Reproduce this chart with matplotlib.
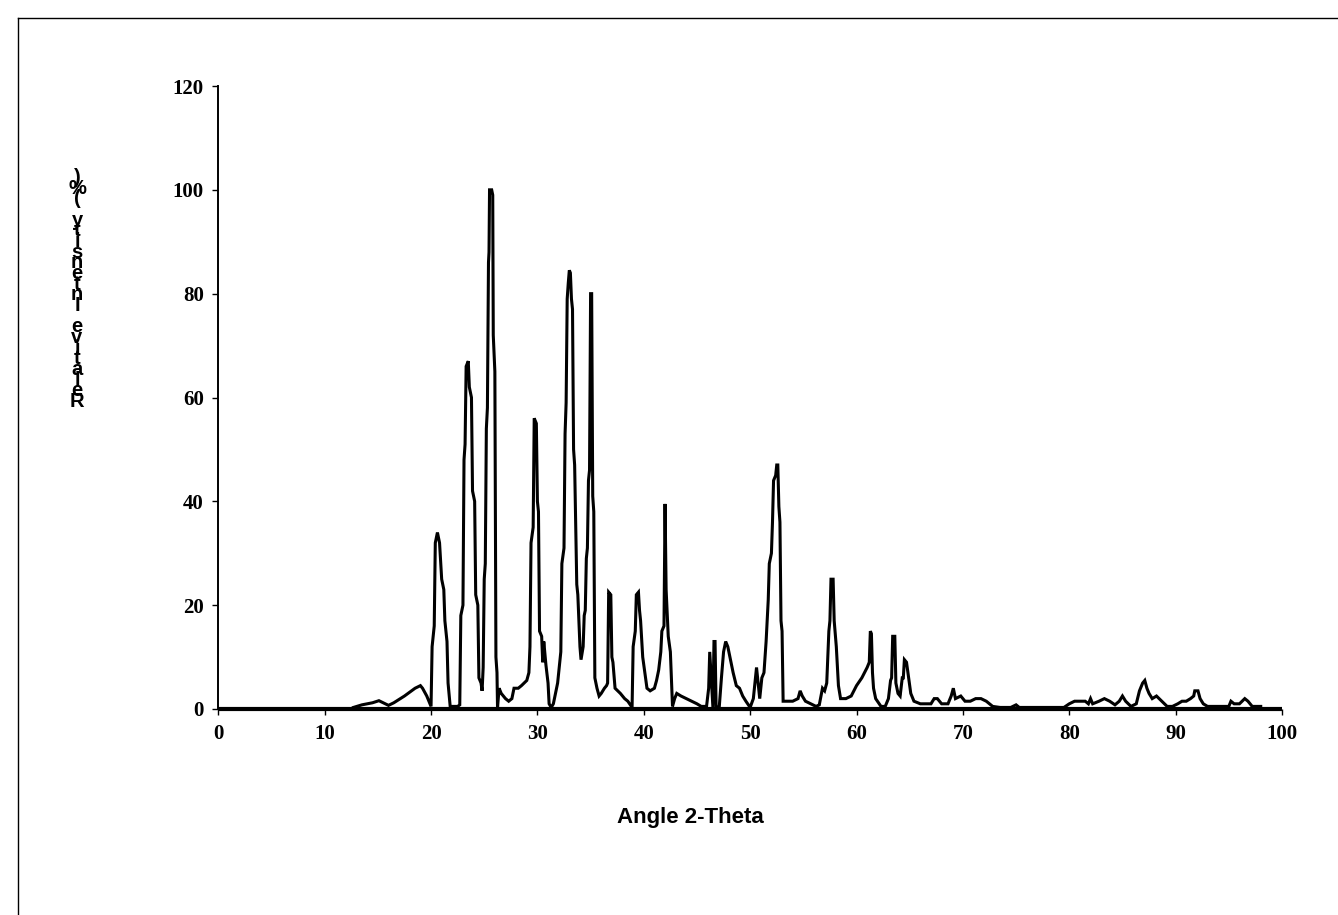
import matplotlib
matplotlib.use("Agg")
import matplotlib.pyplot as plt
from matplotlib.lines import Line2D

# ---- data ----
two_theta = [
    12.7, 13.5, 14.5, 15.1, 15.5, 16.0, 16.5, 17.5, 18.5, 19.0, 19.2, 19.6, 20.0,
    20.1, 20.3, 20.4, 20.6, 20.8, 21.0, 21.2, 21.3, 21.5, 21.6, 21.8, 22.5, 22.7,
    22.8, 23.0, 23.1, 23.2, 23.3, 23.5, 23.6, 23.8, 23.9, 24.1, 24.2, 24.4, 24.5, 24.7, 24.8,
    24.9, 25.0, 25.1, 25.2, 25.3, 25.4, 25.45, 25.5, 25.7, 25.8, 25.85, 26.0, 26.1, 26.2, 26.25,
    26.4, 26.6, 27.0, 27.3, 27.6, 27.8, 28.2, 28.5, 29.0, 29.2, 29.3, 29.4, 29.6, 29.7,
    29.9, 30.0, 30.1, 30.2, 30.4, 30.5, 30.6, 30.8, 31.0, 31.1, 31.3, 31.5, 31.7, 31.9,
    32.1, 32.2, 32.3, 32.5, 32.6, 32.7, 32.8, 32.9, 33.0, 33.1, 33.2, 33.3, 33.4, 33.5,
    33.7, 33.8, 34.0, 34.1, 34.3, 34.4, 34.5, 34.6, 34.7, 34.8, 34.9, 35.0, 35.1, 35.2,
    35.3, 35.4, 35.6, 35.8, 36.0, 36.3, 36.5, 36.6, 36.7, 36.9, 37.0, 37.1, 37.3, 37.8,
    38.2, 38.5, 38.9, 39.0, 39.2, 39.3, 39.5, 39.6, 39.7, 39.9, 40.1, 40.3, 40.6, 41.0,
    41.2, 41.4, 41.6, 41.7, 41.9, 42.0, 42.1, 42.3, 42.5, 42.7, 42.9, 43.1, 43.5, 44.0,
    44.5, 45.0, 45.4, 45.9, 46.1, 46.2, 46.4, 46.5, 46.6, 46.7, 46.8, 47.1, 47.3, 47.5,
    47.7, 47.9, 48.1, 48.4, 48.7, 49.0, 49.3, 49.6, 50.0, 50.3, 50.5, 50.6, 50.7, 50.9,
    51.1, 51.3, 51.5, 51.7, 51.8, 52.0, 52.1, 52.2, 52.4, 52.5, 52.6, 52.7, 52.8, 52.9,
    53.0, 53.1, 53.5, 54.0, 54.5, 54.7, 54.9, 55.2, 55.7, 56.2, 56.5, 56.8, 57.0, 57.2,
    57.4, 57.5, 57.6, 57.8, 57.9, 58.1, 58.3, 58.5, 59.0, 59.5, 60.0, 60.5, 61.0, 61.2,
    61.3, 61.4, 61.5, 61.6, 61.8, 62.3, 62.7, 63.0, 63.2, 63.3, 63.4, 63.6, 63.7, 63.9,
    64.1, 64.3, 64.4, 64.5, 64.7, 64.9, 65.1, 65.4, 66.0, 66.5, 67.0, 67.3, 67.6, 68.0,
    68.6, 68.9, 69.1, 69.3, 69.8, 70.2, 70.7, 71.2, 71.7, 72.2, 72.8, 73.5, 74.5, 75.0,
    75.3, 76.0, 79.5, 80.0, 80.5, 81.0, 81.5, 81.8, 82.0, 82.2, 82.8, 83.3, 83.8, 84.3,
    84.7, 85.0, 85.3, 85.8, 86.3, 86.6, 86.9, 87.1, 87.3, 87.5, 87.8, 88.2, 88.7, 89.2,
    89.7, 90.2, 90.6, 91.0, 91.4, 91.7, 91.8, 92.1, 92.3, 92.6, 93.0, 94.0, 95.0, 95.2,
    95.5, 96.0, 96.5, 96.8, 97.2, 98.0,
]
intensity = [
    0.3, 0.8, 1.2, 1.6, 1.2, 0.7, 1.2, 2.5, 4.0, 4.5, 4.0, 2.5, 0.5,
    12.0, 16.0, 32.0, 34.0, 32.0, 25.0, 23.0, 17.0, 13.0, 5.0, 0.5, 0.5, 0.8,
    18.0, 20.0, 48.0, 51.0, 66.0, 67.0, 62.0, 60.0, 42.0, 40.0, 22.0, 20.0, 6.0, 5.0, 3.5,
    8.0, 25.0, 28.0, 54.0, 58.0, 86.0, 88.0, 100.0, 100.0, 99.0, 72.0, 65.0, 10.0, 7.0, 0.3,
    4.0, 3.0, 2.0, 1.5, 2.0, 4.0, 4.0, 4.5, 5.5, 7.0, 12.0, 32.0, 35.0, 56.0,
    55.0, 40.0, 38.0, 15.0, 14.0, 9.0, 13.0, 8.5, 5.0, 1.0, 0.3, 1.0, 3.0, 5.0,
    9.0, 11.0, 28.0, 31.0, 53.0, 59.0, 79.0, 82.0, 84.5, 84.0, 79.0, 77.0, 50.0, 47.0,
    24.0, 22.0, 12.0, 9.5, 12.0, 18.0, 19.0, 29.0, 31.0, 44.0, 46.0, 80.0, 80.0, 41.0,
    38.0, 6.0, 4.0, 2.5, 3.0, 4.0, 4.5, 5.0, 22.5, 22.0, 10.0, 9.0, 4.0, 3.0,
    2.0, 1.5, 0.3, 12.0, 15.0, 22.0, 22.5, 19.0, 17.0, 10.0, 7.0, 4.0, 3.5, 4.0,
    5.5, 7.5, 11.0, 15.0, 16.0, 39.5, 23.0, 14.0, 11.0, 0.5, 2.0, 3.0, 2.5, 2.0,
    1.5, 1.0, 0.5, 0.5, 4.0, 11.0, 4.0, 0.3, 13.0, 13.0, 0.3, 0.5, 6.0, 11.0,
    13.0, 12.0, 10.0, 7.0, 4.5, 4.0, 2.5, 1.5, 0.3, 2.0, 6.0, 8.0, 6.0, 2.0,
    6.0, 7.0, 13.0, 21.0, 28.0, 30.0, 36.0, 44.0, 45.0, 47.0, 47.0, 39.0, 36.0, 17.0,
    15.0, 1.5, 1.5, 1.5, 2.0, 3.5, 2.5, 1.5, 1.0, 0.5, 0.8, 4.0, 3.5, 5.0,
    15.0, 17.0, 25.0, 25.0, 17.0, 12.0, 4.5, 2.0, 2.0, 2.5, 4.5, 6.0, 8.0, 9.0,
    15.0, 14.5, 7.0, 4.0, 2.0, 0.5, 0.5, 2.0, 5.5, 6.0, 14.0, 14.0, 5.0, 3.0,
    2.5, 6.0, 6.0, 9.5, 9.0, 6.0, 3.0, 1.5, 1.0, 1.0, 1.0, 2.0, 2.0, 1.0,
    1.0, 2.5, 4.0, 2.0, 2.5, 1.5, 1.5, 2.0, 2.0, 1.5, 0.5, 0.3, 0.3, 0.8,
    0.3, 0.3, 0.3, 1.0, 1.5, 1.5, 1.5, 1.0, 2.0, 1.0, 1.5, 2.0, 1.5, 0.8,
    1.5, 2.5, 1.5, 0.5, 1.0, 3.5, 5.0, 5.5, 4.0, 3.0, 2.0, 2.5, 1.5, 0.5,
    0.5, 1.0, 1.5, 1.5, 2.0, 2.5, 3.5, 3.5, 2.0, 1.0, 0.5, 0.5, 0.5, 1.5,
    1.0, 1.0, 2.0, 1.5, 0.5, 0.5,
]
x_ticks = [0, 10, 20, 30, 40, 50, 60, 70, 80, 90, 100]
y_ticks = [0, 20, 40, 60, 80, 100, 120]
x_title = "Angle 2-Theta"
y_title = "Relative Intensity (%)"

W, H = 1338, 915
fig = plt.figure(figsize=(W / 100, H / 100), dpi=100)
fig.patch.set_facecolor("white")

# figure border (top and left visible in the crop)
fig.add_artist(Line2D([18 / W, 18 / W], [0, 1 - 18 / H], transform=fig.transFigure,
                      color="black", lw=1.0))
fig.add_artist(Line2D([18 / W, 1], [1 - 18 / H, 1 - 18 / H], transform=fig.transFigure,
                      color="black", lw=1.0))

left, right = 218.3 / W, 1282.0 / W
bottom, top = 1 - 709.0 / H, 1 - 86.0 / H
ax = fig.add_axes([left, bottom, right - left, top - bottom])

ax.plot(two_theta, intensity, color="black", lw=2.2, solid_joinstyle="miter")

ax.set_xlim(0, 100)
ax.set_ylim(0, 120)
ax.set_xticks(x_ticks)
ax.set_yticks(y_ticks)
serif = {"family": "Liberation Serif", "weight": "bold", "size": 15}
ax.set_xticklabels([str(v) for v in x_ticks], fontdict=serif)
ax.set_yticklabels([str(v) for v in y_ticks], fontdict=serif)
ax.tick_params(axis="both", direction="out", length=4.5, width=1.0, color="black")
ax.tick_params(axis="x", pad=6)
ax.tick_params(axis="y", pad=6)

for s in ["top", "right"]:
    ax.spines[s].set_visible(False)
ax.spines["left"].set_linewidth(1.4)
ax.spines["bottom"].set_linewidth(3.0)
ax.spines["bottom"].set_capstyle("butt")

fig.text(690 / W, 1 - 818 / H, x_title, ha="center", va="center",
         family="Liberation Sans", weight="bold", size=16)

# stacked (upright) y-axis title, characters from bottom to top
chars = list(y_title)
step = 10.67
for i, ch in enumerate(chars):
    if ch == " ":
        continue
    yc = 407 - i * step
    fig.text(77 / W, 1 - yc / H, ch, ha="center", va="baseline",
             family="Liberation Sans", weight="bold", size=14.5)

fig.savefig("out.png", dpi=100, facecolor="white")
